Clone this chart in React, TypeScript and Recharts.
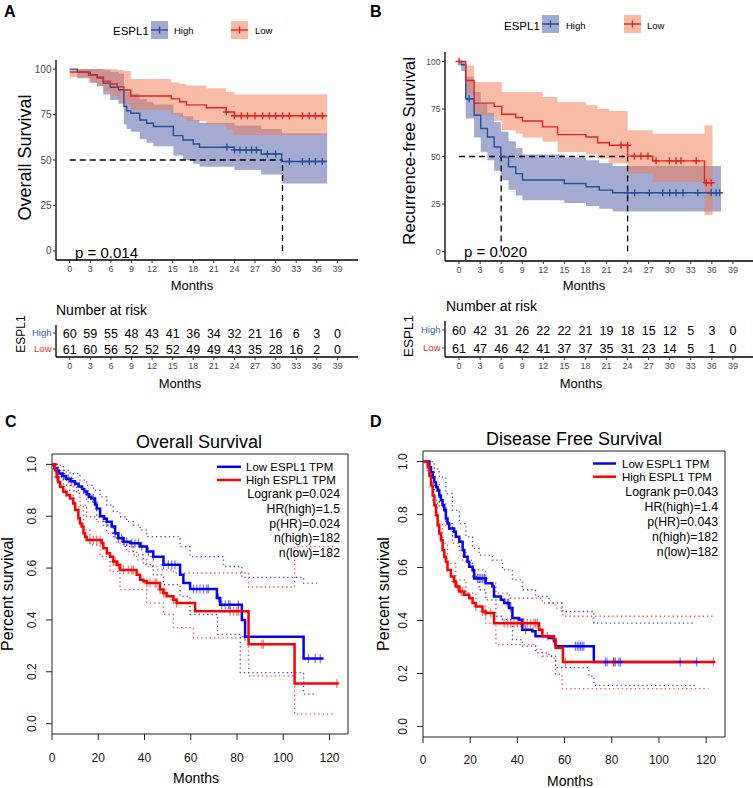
import React from 'react';
import { ComposedChart, Line, Area, Scatter, XAxis, YAxis, ReferenceLine, ReferenceArea } from 'recharts';

const FONT = '"Liberation Sans", Arial, Helvetica, sans-serif';

// ---------------- shared tick labels ----------------
const monthTicks = [0, 3, 6, 9, 12, 15, 18, 21, 24, 27, 30, 33, 36, 39];
const survTicks = [0, 25, 50, 75, 100];
const gepiaMonthTicks = [0, 20, 40, 60, 80, 100, 120];
const gepiaSurvTicks = [0, 0.2, 0.4, 0.6, 0.8, 1.0];
const groupNames = ['Low', 'High'];

// ---------------- Panel A : Overall Survival (ESPL1 High / Low) ----------------
const aHighTime = [0, 1.1, 3.0, 4.0, 4.9, 5.9, 7.1, 7.9, 8.3, 8.9, 10.2, 11.2, 12.2, 15.1, 16.5, 18.0, 18.9, 24.0, 27.9, 30.9, 37.5];
const aHighSurv = [100, 98.3, 96.9, 95.6, 92.3, 90.0, 88.6, 79.4, 77.0, 75.7, 72.0, 70.2, 68.4, 63.4, 61.0, 58.8, 57.0, 55.5, 53.3, 49.2, 49.2];
const aHighUpper = [100, 100, 100, 100, 99.5, 98.5, 97.5, 89, 87.5, 86.5, 83.5, 82, 80.5, 76, 74, 72, 70.5, 69, 67, 64.7, 64.7];
const aHighLower = [100, 95, 92.5, 90.5, 86, 83, 81, 69.5, 67, 65.5, 61.5, 59.5, 57.5, 52.5, 50, 48, 46.3, 44.5, 42, 37.1, 37.1];
const aHighCensor = [22.9, 24.0, 24.8, 25.7, 26.5, 27.2, 28.8, 30.0, 32.0, 33.9, 34.9, 35.8, 36.8];

const aLowTime = [0, 2.75, 4.0, 4.9, 5.9, 6.9, 7.9, 8.9, 14.8, 16.0, 17.0, 19.9, 22.8, 24.0, 37.5];
const aLowSurv = [98.4, 96.7, 95.1, 93.4, 91.8, 90.2, 88.5, 85.2, 83.6, 82.0, 80.3, 78.7, 76.4, 74.3, 74.3];
const aLowUpper = [100, 100, 100, 100, 100, 99.5, 99, 94.5, 92.6, 91.8, 91, 89.5, 87.5, 86, 86];
const aLowLower = [95.5, 92.5, 90.5, 88, 85.5, 83.5, 81, 77.5, 75, 73.5, 71.5, 69.5, 66.5, 63.8, 63.8];
const aLowCensor = [22.8, 24.0, 25.0, 25.9, 27.0, 28.1, 29.1, 30.0, 31.0, 32.0, 33.9, 34.9, 35.8, 36.8];

const aMedianHigh = 31;
const aRiskHigh = [60, 59, 55, 48, 43, 41, 36, 34, 32, 21, 16, 6, 3, 0];
const aRiskLow = [61, 60, 56, 52, 52, 52, 49, 49, 43, 35, 28, 16, 2, 0];

// ---------------- Panel B : Recurrence-free Survival ----------------
const bHighTime = [0, 0.3, 0.95, 2.14, 3.09, 4.04, 5.0, 5.94, 7.04, 8.08, 9.03, 14.98, 18.07, 19.97, 21.87, 37.3];
const bHighSurv = [100, 98.3, 80.4, 71.7, 64.7, 60.3, 55.0, 49.8, 44.6, 41.0, 37.6, 35.8, 34.1, 32.3, 30.9, 30.9];
const bHighUpper = [100, 100, 92, 84, 78, 73, 68, 63, 58, 54.5, 51, 49.5, 48, 46.5, 45, 45];
const bHighLower = [100, 95, 70, 60, 52.5, 48, 42.5, 37.5, 32.5, 29.5, 27, 25.5, 24, 22.5, 21, 21];
const bHighCensor = [1.43, 24.0, 25.0, 27.1, 29.0, 30.0, 30.9, 31.9, 34.0, 35.9, 36.6, 37.1];

const bLowTime = [0, 0.95, 2.14, 5.0, 6.09, 8.08, 9.03, 11.89, 14.03, 18.07, 19.73, 21.4, 24.01, 27.58, 34.95, 36.1];
const bLowSurv = [100, 90.0, 78.1, 76.4, 72.2, 70.5, 68.7, 65.6, 61.5, 60.3, 57.2, 55.9, 50.2, 47.7, 36.2, 36.2];
const bLowUpper = [100, 97.9, 89.2, 89.2, 84, 84, 84, 81.3, 78.7, 77, 75, 74, 63.8, 62, 66.4, 66.4];
const bLowLower = [100, 83, 71.7, 69, 63.8, 62, 60, 57.7, 52.4, 51, 49, 46.3, 41, 36.7, 19.2, 19.2];
const bLowCensor = [0, 23.06, 24.0, 24.96, 25.9, 26.9, 28.05, 29.96, 30.9, 31.6, 33.76, 35.2, 35.9];

const bMedianHigh = 6;
const bMedianLow = 24;
const bRiskHigh = [60, 42, 31, 26, 22, 22, 21, 19, 18, 15, 12, 5, 3, 0];
const bRiskLow = [61, 47, 46, 42, 41, 37, 37, 35, 31, 23, 14, 5, 1, 0];

// ---------------- Panel C : GEPIA Overall Survival ----------------
const cLowTime = [0, 1, 2, 3, 4.5, 6, 8, 10, 11.5, 13, 14, 15, 16, 17, 18.6, 19.3, 20.8, 22.5, 23.7, 25.8, 27.3, 28.7, 30.9, 33.8, 38.1, 41, 43.8, 48.2, 55.4, 56.8, 59.7, 71.3, 72.7, 82.1, 83.5, 108.8, 117.4];
const cLowSurv = [1, 0.985, 0.975, 0.965, 0.955, 0.945, 0.935, 0.925, 0.915, 0.905, 0.895, 0.885, 0.875, 0.868, 0.845, 0.83, 0.8, 0.79, 0.779, 0.76, 0.734, 0.715, 0.702, 0.696, 0.683, 0.664, 0.644, 0.613, 0.574, 0.542, 0.519, 0.485, 0.459, 0.4, 0.335, 0.251, 0.251];
const cLowUpTime = [0, 2.7, 4.9, 7.8, 12.1, 15, 17.9, 20.8, 23.7, 26.5, 29.4, 32.3, 35.2, 38.1, 41, 55.4, 59.7, 74.2, 82.1, 108.8, 114.6];
const cLowUp = [1, 0.996, 0.977, 0.964, 0.939, 0.919, 0.9, 0.875, 0.843, 0.818, 0.798, 0.779, 0.766, 0.747, 0.721, 0.683, 0.644, 0.606, 0.564, 0.542, 0.542];
const cLowLoTime = [0, 2, 6.3, 10.7, 15, 19.3, 22.2, 26.5, 30.9, 35.2, 39.5, 43.8, 48.2, 55.4, 59.7, 71.6, 81.4, 108.8, 114.6];
const cLowLo = [1, 0.964, 0.919, 0.887, 0.855, 0.798, 0.766, 0.721, 0.683, 0.651, 0.613, 0.574, 0.536, 0.491, 0.421, 0.344, 0.197, 0.114, 0.114];
const cLowCensor = [2.7, 4.9, 7.1, 8.5, 15.7, 17.9, 23.7, 27.3, 28.7, 30.1, 31.2, 32.3, 34.5, 35.9, 37.4, 38.8, 41.7, 43.8, 48.2, 50.3, 51.8, 53.2, 61.2, 62.6, 64, 65.5, 66.9, 67.6, 72, 73.4, 74.9, 76.3, 77, 80.6, 83.5, 110.9, 113.8, 116];

const cHighTime = [0, 1.3, 2, 2.7, 3.5, 4.9, 6.3, 7.8, 9.2, 10, 11.4, 12.1, 12.8, 13.6, 14.3, 15, 21.5, 22.2, 23.7, 25.1, 26.5, 28, 29.4, 36.6, 38.1, 39.5, 41, 46.7, 48.2, 49.6, 52.5, 53.9, 61.9, 85, 104.9, 123.9];
const cHighSurv = [1, 0.977, 0.951, 0.932, 0.913, 0.894, 0.881, 0.868, 0.849, 0.824, 0.792, 0.772, 0.76, 0.734, 0.721, 0.708, 0.696, 0.676, 0.657, 0.644, 0.625, 0.613, 0.593, 0.574, 0.555, 0.549, 0.542, 0.517, 0.504, 0.491, 0.478, 0.465, 0.433, 0.306, 0.155, 0.155];
const cHighUpTime = [0, 2.7, 6.3, 9.2, 12.1, 15, 19.3, 23.7, 28, 32.3, 36.6, 41, 45.3, 52.5, 85, 104.9, 122.5];
const cHighUp = [1, 0.977, 0.945, 0.9, 0.843, 0.798, 0.779, 0.734, 0.696, 0.664, 0.632, 0.606, 0.593, 0.581, 0.527, 0.683, 0.683];
const cHighLoTime = [0, 2, 4.9, 9.2, 13.6, 16.4, 20.8, 25.1, 29.4, 41, 48.2, 52.5, 61.2, 85, 104.9, 121.7];
const cHighLo = [1, 0.951, 0.9, 0.836, 0.747, 0.689, 0.644, 0.587, 0.517, 0.465, 0.421, 0.37, 0.331, 0.184, 0.037, 0.037];
const cHighCensor = [2, 16.4, 17.9, 19.3, 20.8, 26.5, 27.3, 28.7, 30.9, 33, 34.5, 35.2, 41, 42.4, 44.6, 45.3, 46.7, 48.2, 48.9, 52.5, 53.9, 77, 78.5, 79.9, 80.6, 90.7, 91.4, 123.2];
const cStats = ['Logrank p=0.024', 'HR(high)=1.5', 'p(HR)=0.024', 'n(high)=182', 'n(low)=182'];

// ---------------- Panel D : GEPIA Disease Free Survival ----------------
const dLowTime = [0, 1.3, 2.7, 3.4, 4.1, 4.8, 5.5, 6.2, 6.9, 7.6, 8.3, 9.0, 9.7, 10.4, 11.1, 13.2, 13.9, 15.4, 16.8, 17.5, 18.9, 19.6, 21.0, 21.7, 26.6, 29.4, 30.1, 33.0, 34.4, 36.5, 37.9, 40.7, 42.1, 46.3, 47.7, 53.4, 55.5, 56.2, 68.9, 72.4, 116];
const dLowSurv = [1, 1, 0.979, 0.96, 0.941, 0.922, 0.904, 0.891, 0.872, 0.854, 0.835, 0.816, 0.785, 0.766, 0.747, 0.735, 0.716, 0.697, 0.666, 0.641, 0.622, 0.603, 0.591, 0.559, 0.541, 0.528, 0.491, 0.478, 0.466, 0.447, 0.409, 0.403, 0.365, 0.359, 0.34, 0.334, 0.322, 0.303, 0.303, 0.243, 0.243];
const dLowUpTime = [0, 4.8, 6.9, 9.7, 12.5, 15.4, 18.2, 21.0, 23.8, 29.4, 33.7, 37.9, 42.1, 47.7, 53.4, 59.0, 72.4, 115.4];
const dLowUp = [1, 0.972, 0.941, 0.879, 0.816, 0.766, 0.716, 0.672, 0.647, 0.628, 0.591, 0.553, 0.516, 0.491, 0.466, 0.434, 0.39, 0.39];
const dLowLoTime = [0, 2.7, 4.8, 6.9, 9.7, 12.5, 15.4, 18.2, 21.0, 23.8, 26.6, 30.9, 33.7, 37.9, 42.1, 47.7, 53.4, 56.2, 70.3, 72.4, 116];
const dLowLo = [1, 0.96, 0.891, 0.829, 0.766, 0.716, 0.666, 0.616, 0.566, 0.516, 0.478, 0.416, 0.403, 0.328, 0.303, 0.278, 0.265, 0.222, 0.19, 0.155, 0.155];
const dLowCensor = [23.1, 23.8, 24.5, 25.2, 25.9, 26.2, 35.8, 36.3, 37.2, 43.5, 64.6, 65.4, 66.1, 66.8, 67.5, 68.2, 77.3, 78, 80.8, 81.5, 83, 83.7, 109, 116];

const dHighTime = [0, 2.0, 2.7, 3.4, 4.1, 4.8, 5.5, 6.2, 6.9, 7.6, 8.3, 9, 9.7, 10.4, 11.8, 13.2, 13.9, 15.4, 17.5, 19.6, 21, 22.4, 25.2, 26.6, 30.1, 49.2, 50.6, 55.5, 56.2, 59.3, 123.8];
const dHighSurv = [1, 0.979, 0.947, 0.91, 0.872, 0.835, 0.797, 0.76, 0.728, 0.703, 0.666, 0.641, 0.622, 0.591, 0.566, 0.547, 0.528, 0.509, 0.497, 0.484, 0.466, 0.453, 0.434, 0.428, 0.39, 0.365, 0.34, 0.328, 0.297, 0.243, 0.243];
const dHighUpTime = [0, 2.7, 4.8, 6.9, 9.7, 12.5, 16.8, 21.0, 26.6, 30.9, 36.6, 50.6, 56.2, 59.3, 123.8];
const dHighUp = [1, 0.979, 0.916, 0.841, 0.753, 0.691, 0.628, 0.591, 0.541, 0.503, 0.484, 0.466, 0.447, 0.416, 0.416];
const dHighLoTime = [0, 2.0, 4.1, 6.2, 8.3, 10.4, 13.9, 18.2, 22.4, 26.6, 30.9, 47.7, 50.6, 55.5, 56.2, 58.3, 59.0, 121];
const dHighLo = [1, 0.954, 0.854, 0.766, 0.691, 0.616, 0.553, 0.503, 0.453, 0.39, 0.309, 0.29, 0.265, 0.247, 0.197, 0.19, 0.143, 0.143];
const dHighCensor = [13.2, 14.6, 16.1, 16.8, 22.4, 25.2, 26.6, 28.7, 34.4, 35.8, 37.2, 38.6, 40, 41.4, 42.8, 44.2, 45.6, 47, 47.7, 48.5, 52.7, 60.4, 80.8, 123.1];
const dStats = ['Logrank p=0.043', 'HR(high)=1.4', 'p(HR)=0.043', 'n(high)=182', 'n(low)=182'];

// ---------------- colours ----------------
const KM_BLUE = '#27509B';
const KM_RED = '#E8221E';
const BAND_BLUE = '#4A55A2';
const BAND_RED = '#F27A4E';
const LBL_BLUE = '#3465AE';
const LBL_RED = '#EE2A2A';
const G_BLUE = '#0000FF';
const G_RED = '#FF0000';

// ---------------- helpers ----------------
type XY = { t: number; v: number };
const toLine = (ts: number[], vs: number[]): XY[] => ts.map((t, i) => ({ t, v: vs[i] }));
const toBand = (ts: number[], lo: number[], hi: number[]) => ts.map((t, i) => ({ t, r: [lo[i], hi[i]] }));
const valueAt = (ts: number[], vs: number[], x: number) => {
  let v = vs[0];
  for (let i = 0; i < ts.length; i++) if (ts[i] <= x + 1e-9) v = vs[i];
  return v;
};
const toCensor = (ts: number[], vs: number[], cs: number[]): XY[] => cs.map((t) => ({ t, v: valueAt(ts, vs, t) }));
const riskRows = (high: number[], low: number[]) => [
  ...monthTicks.map((t, i) => ({ t, g: 1, n: high[i] })),
  ...monthTicks.map((t, i) => ({ t, g: 0, n: low[i] })),
];

function crossShape(color: string, hw: number, hh: number, sw: number, op = 1) {
  return (p: any) => {
    const { cx, cy } = p;
    if (typeof cx !== 'number' || typeof cy !== 'number' || isNaN(cx) || isNaN(cy)) return <g />;
    return (
      <g stroke={color} strokeWidth={sw} strokeOpacity={op} fill="none">
        <line x1={cx - hw} y1={cy} x2={cx + hw} y2={cy} />
        <line x1={cx} y1={cy - hh} x2={cx} y2={cy + hh} />
      </g>
    );
  };
}

const riskText = (fontSize: number) => (p: any) => {
  const { cx, cy } = p;
  const n = p.payload ? p.payload.n : p.n;
  if (typeof cx !== 'number' || typeof cy !== 'number') return <g />;
  return (
    <text x={cx} y={cy} dy="0.36em" textAnchor="middle" fontSize={fontSize} fill="#000">
      {n}
    </text>
  );
};

const groupTick = (fontSize: number) => (p: any) => {
  const v = p.payload.value;
  return (
    <text x={p.x} y={p.y} dy="0.36em" textAnchor="end" fontSize={fontSize} fill={v === 1 ? LBL_BLUE : LBL_RED}>
      {groupNames[v]}
    </text>
  );
};

const rotTick = (fontSize: number) => (p: any) => {
  const { x, y, payload } = p;
  return (
    <text x={x} y={y} transform={`rotate(-90 ${x} ${y})`} textAnchor="middle" fontSize={fontSize} fill="#111">
      {Number(payload.value).toFixed(1)}
    </text>
  );
};

// ---------------- survminer-style KM chart ----------------
interface KMS {
  line: XY[];
  band: any[];
  censor: XY[];
  color: string;
  fill: string;
}
function KMChart(props: {
  left: number; top: number; width: number; height: number; mTop: number; mRight: number;
  yWidth: number; xHeight: number; series: KMS[]; segs: { x: number; y: number }[][]; yFont: number;
}) {
  const { left, top, width, height, mTop, mRight, yWidth, xHeight, series, segs, yFont } = props;
  return (
    <div style={{ position: 'absolute', left, top }}>
      <ComposedChart width={width} height={height} margin={{ top: mTop, right: mRight, bottom: 0, left: 0 }}>
        <XAxis dataKey="t" type="number" domain={[-2, 42]} ticks={monthTicks} interval={0} allowDataOverflow height={xHeight}
          tickSize={3} tickMargin={3} tick={{ fill: '#4D4D4D', fontSize: 9 }} tickLine={{ stroke: '#333' }} axisLine={{ stroke: '#000', strokeWidth: 1.3 }} />
        <YAxis type="number" domain={[-5, 105]} ticks={survTicks} interval={0} allowDataOverflow width={yWidth}
          tickSize={3} tickMargin={1.5} tick={{ fill: '#4D4D4D', fontSize: yFont }} tickLine={{ stroke: '#333' }} axisLine={{ stroke: '#000', strokeWidth: 1.3 }} />
        {series.map((s, i) => (
          <Area key={'band' + i} data={s.band} dataKey="r" type="stepAfter" stroke="none" fill={s.fill} fillOpacity={0.5}
            isAnimationActive={false} dot={false} activeDot={false} />
        ))}
        {segs.map((sg, i) => (
          <ReferenceLine key={'seg' + i} segment={sg} stroke="#000" strokeWidth={1.3} strokeDasharray="6 4" />
        ))}
        {series.map((s, i) => (
          <Line key={'line' + i} data={s.line} dataKey="v" type="stepAfter" stroke={s.color} strokeWidth={1.4}
            dot={false} activeDot={false} isAnimationActive={false} />
        ))}
        {series.map((s, i) => (
          <Scatter key={'cen' + i} data={s.censor} dataKey="v" shape={crossShape(s.color, 3.5, 3.5, 1.4)} isAnimationActive={false} />
        ))}
      </ComposedChart>
    </div>
  );
}

function RiskChart(props: {
  left: number; top: number; width: number; height: number; mTop: number; mRight: number;
  yWidth: number; xHeight: number; rows: any[]; numFont: number;
}) {
  const { left, top, width, height, mTop, mRight, yWidth, xHeight, rows, numFont } = props;
  return (
    <div style={{ position: 'absolute', left, top }}>
      <ComposedChart width={width} height={height} margin={{ top: mTop, right: mRight, bottom: 0, left: 0 }}>
        <XAxis dataKey="t" type="number" domain={[-2, 42]} ticks={monthTicks} interval={0} allowDataOverflow height={xHeight}
          tickSize={3} tickMargin={3} tick={{ fill: '#4D4D4D', fontSize: 9 }} tickLine={{ stroke: '#333' }} axisLine={{ stroke: '#000', strokeWidth: 1.3 }} />
        <YAxis type="number" domain={[-0.5, 1.5]} ticks={[0, 1]} interval={0} allowDataOverflow width={yWidth}
          tickSize={3} tickMargin={1.5} tick={groupTick(9.5)} tickLine={{ stroke: '#333' }} axisLine={{ stroke: '#000', strokeWidth: 1.3 }} />
        <Scatter data={rows} dataKey="g" shape={riskText(numFont)} isAnimationActive={false} />
      </ComposedChart>
    </div>
  );
}

// ---------------- GEPIA-style chart ----------------
interface GS {
  line: XY[];
  up: XY[];
  lo: XY[];
  censor: XY[];
  color: string;
}
function GepiaChart(props: {
  left: number; top: number; width: number; height: number; mTop: number; mRight: number;
  yWidth: number; xHeight: number; xTickMargin: number; series: GS[];
}) {
  const { left, top, width, height, mTop, mRight, yWidth, xHeight, xTickMargin, series } = props;
  return (
    <div style={{ position: 'absolute', left, top }}>
      <ComposedChart width={width} height={height} margin={{ top: mTop, right: mRight, bottom: 0, left: 0 }}>
        <XAxis dataKey="t" type="number" domain={[0, 128]} ticks={gepiaMonthTicks} interval={0} allowDataOverflow height={xHeight}
          axisLine={false} tickSize={6} tickMargin={xTickMargin} tick={{ fill: '#111', fontSize: 12 }} tickLine={{ stroke: '#222' }} />
        <YAxis type="number" domain={[-0.04, 1.04]} ticks={gepiaSurvTicks} interval={0} allowDataOverflow width={yWidth}
          axisLine={false} tickSize={6} tickMargin={10} tick={rotTick(12)} tickLine={{ stroke: '#222' }} />
        <ReferenceArea x1={0} x2={128} y1={-0.04} y2={1.04} fill="none" stroke="#222" strokeWidth={1} ifOverflow="visible" />
        {series.map((s, i) => (
          <Line key={'up' + i} data={s.up} dataKey="v" type="stepAfter" stroke={s.color} strokeOpacity={0.75} strokeWidth={1.3}
            strokeDasharray="1.3 3" dot={false} activeDot={false} isAnimationActive={false} />
        ))}
        {series.map((s, i) => (
          <Line key={'lo' + i} data={s.lo} dataKey="v" type="stepAfter" stroke={s.color} strokeOpacity={0.75} strokeWidth={1.3}
            strokeDasharray="1.3 3" dot={false} activeDot={false} isAnimationActive={false} />
        ))}
        {series.map((s, i) => (
          <Line key={'main' + i} data={s.line} dataKey="v" type="stepAfter" stroke={s.color} strokeWidth={2.5}
            dot={false} activeDot={false} isAnimationActive={false} />
        ))}
        {series.map((s, i) => (
          <Scatter key={'cen' + i} data={s.censor} dataKey="v" shape={crossShape(s.color, 3, 4.5, 1.2, 0.55)} isAnimationActive={false} />
        ))}
      </ComposedChart>
    </div>
  );
}

// ---------------- legend key for survminer panels ----------------
function KeyBox({ x, y, fill, color }: { x: number; y: number; fill: string; color: string }) {
  return (
    <g>
      <rect x={x} y={y} width={17} height={18} fill={fill} fillOpacity={0.5} />
      <line x1={x} y1={y + 9} x2={x + 17} y2={y + 9} stroke={color} strokeWidth={1.4} />
      <line x1={x + 8.5} y1={y + 5.5} x2={x + 8.5} y2={y + 12.5} stroke={color} strokeWidth={1.4} />
    </g>
  );
}

export default function App() {
  const aSeries: KMS[] = [
    { line: toLine(aHighTime, aHighSurv), band: toBand(aHighTime, aHighLower, aHighUpper), censor: toCensor(aHighTime, aHighSurv, aHighCensor), color: KM_BLUE, fill: BAND_BLUE },
    { line: toLine(aLowTime, aLowSurv), band: toBand(aLowTime, aLowLower, aLowUpper), censor: toCensor(aLowTime, aLowSurv, aLowCensor), color: KM_RED, fill: BAND_RED },
  ];
  const bSeries: KMS[] = [
    { line: toLine(bHighTime, bHighSurv), band: toBand(bHighTime, bHighLower, bHighUpper), censor: toCensor(bHighTime, bHighSurv, bHighCensor), color: KM_BLUE, fill: BAND_BLUE },
    { line: toLine(bLowTime, bLowSurv), band: toBand(bLowTime, bLowLower, bLowUpper), censor: toCensor(bLowTime, bLowSurv, bLowCensor), color: KM_RED, fill: BAND_RED },
  ];
  const aSegs = [
    [{ x: 0, y: 50 }, { x: aMedianHigh, y: 50 }],
    [{ x: aMedianHigh, y: 0 }, { x: aMedianHigh, y: 50 }],
  ];
  const bSegs = [
    [{ x: 0, y: 50 }, { x: bMedianLow, y: 50 }],
    [{ x: bMedianHigh, y: 0 }, { x: bMedianHigh, y: 50 }],
    [{ x: bMedianLow, y: 0 }, { x: bMedianLow, y: 50 }],
  ];
  const cSeries: GS[] = [
    { line: toLine(cLowTime, cLowSurv), up: toLine(cLowUpTime, cLowUp), lo: toLine(cLowLoTime, cLowLo), censor: toCensor(cLowTime, cLowSurv, cLowCensor), color: G_BLUE },
    { line: toLine(cHighTime, cHighSurv), up: toLine(cHighUpTime, cHighUp), lo: toLine(cHighLoTime, cHighLo), censor: toCensor(cHighTime, cHighSurv, cHighCensor), color: G_RED },
  ];
  const dSeries: GS[] = [
    { line: toLine(dLowTime, dLowSurv), up: toLine(dLowUpTime, dLowUp), lo: toLine(dLowLoTime, dLowLo), censor: toCensor(dLowTime, dLowSurv, dLowCensor), color: G_BLUE },
    { line: toLine(dHighTime, dHighSurv), up: toLine(dHighUpTime, dHighUp), lo: toLine(dHighLoTime, dHighLo), censor: toCensor(dHighTime, dHighSurv, dHighCensor), color: G_RED },
  ];

  const statLine = (x: number, y0: number, lines: string[], step: number) =>
    lines.map((s, i) => (
      <text key={s + i} x={x} y={y0 + i * step} textAnchor="end" fontSize={12.3} fill="#000">{s}</text>
    ));

  return (
    <div style={{ position: 'absolute', left: 0, top: 0, width: 753, height: 788, background: '#fff', overflow: 'hidden', fontFamily: FONT }}>
      <KMChart left={0} top={0} width={376} height={300} mTop={60} mRight={18} yWidth={56} xHeight={40} series={aSeries} segs={aSegs} yFont={10} />
      <KMChart left={376} top={0} width={378} height={300} mTop={52} mRight={0} yWidth={69} xHeight={39} series={bSeries} segs={bSegs} yFont={8.5} />
      <RiskChart left={0} top={300} width={376} height={100} mTop={25} mRight={18} yWidth={56} xHeight={43} rows={riskRows(aRiskHigh, aRiskLow)} numFont={12.5} />
      <RiskChart left={376} top={300} width={378} height={100} mTop={21} mRight={0} yWidth={69} xHeight={43} rows={riskRows(bRiskHigh, bRiskLow)} numFont={12.5} />
      <GepiaChart left={0} top={390} width={376} height={398} mTop={64} mRight={28} yWidth={52} xHeight={54} xTickMargin={13} series={cSeries} />
      <GepiaChart left={376} top={390} width={377} height={398} mTop={61} mRight={28} yWidth={47} xHeight={51} xTickMargin={12} series={dSeries} />

      <svg width={753} height={788} style={{ position: 'absolute', left: 0, top: 0, pointerEvents: 'none' }}>
        {/* Panel A */}
        <text x={4} y={17} fontSize={16} fontWeight="bold">A</text>
        <text x={113} y={34.5} fontSize={11.5}>ESPL1</text>
        <KeyBox x={151} y={21} fill={BAND_BLUE} color={KM_BLUE} />
        <text x={174} y={33.5} fontSize={9.5}>High</text>
        <KeyBox x={231} y={21} fill={BAND_RED} color={KM_RED} />
        <text x={255} y={33.5} fontSize={9.5}>Low</text>
        <text x={31} y={157.5} fontSize={18} textAnchor="middle" transform="rotate(-90 31 157.5)">Overall Survival</text>
        <text x={75} y={258} fontSize={15}>p = 0.014</text>
        <text x={192} y={290} fontSize={13} textAnchor="middle">Months</text>
        <text x={56} y={315} fontSize={14}>Number at risk</text>
        <text x={25} y={334} fontSize={12} textAnchor="middle" transform="rotate(-90 25 334)">ESPL1</text>
        <text x={180} y={388} fontSize={13} textAnchor="middle">Months</text>

        {/* Panel B */}
        <text x={370} y={16.5} fontSize={16} fontWeight="bold">B</text>
        <text x={504} y={30} fontSize={11.5}>ESPL1</text>
        <KeyBox x={542} y={15} fill={BAND_BLUE} color={KM_BLUE} />
        <text x={566} y={28.5} fontSize={9.5}>High</text>
        <KeyBox x={624} y={15} fill={BAND_RED} color={KM_RED} />
        <text x={647} y={28.5} fontSize={9.5}>Low</text>
        <text x={415} y={151} fontSize={17} textAnchor="middle" transform="rotate(-90 415 151)">Recurrence-free Survival</text>
        <text x={464} y={257} fontSize={15}>p = 0.020</text>
        <text x={584} y={290} fontSize={13} textAnchor="middle">Months</text>
        <text x={446} y={311} fontSize={14}>Number at risk</text>
        <text x={413} y={336} fontSize={13.5} textAnchor="middle" transform="rotate(-90 413 336)">ESPL1</text>
        <text x={581} y={388} fontSize={13} textAnchor="middle">Months</text>

        {/* Panel C */}
        <text x={5} y={427} fontSize={16} fontWeight="bold">C</text>
        <text x={199} y={448} fontSize={18} textAnchor="middle">Overall Survival</text>
        <text x={13} y={594} fontSize={16} textAnchor="middle" transform="rotate(-90 13 594)">Percent survival</text>
        <text x={196} y={783} fontSize={14} textAnchor="middle">Months</text>
        <line x1={217} y1={466.8} x2={241} y2={466.8} stroke={G_BLUE} strokeWidth={2.5} />
        <line x1={217} y1={480} x2={241} y2={480} stroke={G_RED} strokeWidth={2.5} />
        <text x={246} y={470.8} fontSize={11.5}>Low ESPL1 TPM</text>
        <text x={246} y={484} fontSize={11.5}>High ESPL1 TPM</text>
        {statLine(340, 498.3, cStats, 14.6)}

        {/* Panel D */}
        <text x={370} y={427} fontSize={16} fontWeight="bold">D</text>
        <text x={574} y={445} fontSize={18} textAnchor="middle">Disease Free Survival</text>
        <text x={389} y={594} fontSize={16} textAnchor="middle" transform="rotate(-90 389 594)">Percent survival</text>
        <text x={570} y={786} fontSize={14} textAnchor="middle">Months</text>
        <line x1={593} y1={463.5} x2={616} y2={463.5} stroke={G_BLUE} strokeWidth={2.5} />
        <line x1={593} y1={476.7} x2={616} y2={476.7} stroke={G_RED} strokeWidth={2.5} />
        <text x={622} y={467.5} fontSize={11.5}>Low ESPL1 TPM</text>
        <text x={622} y={480.7} fontSize={11.5}>High ESPL1 TPM</text>
        {statLine(718, 496, dStats, 14.9)}
      </svg>
    </div>
  );
}
